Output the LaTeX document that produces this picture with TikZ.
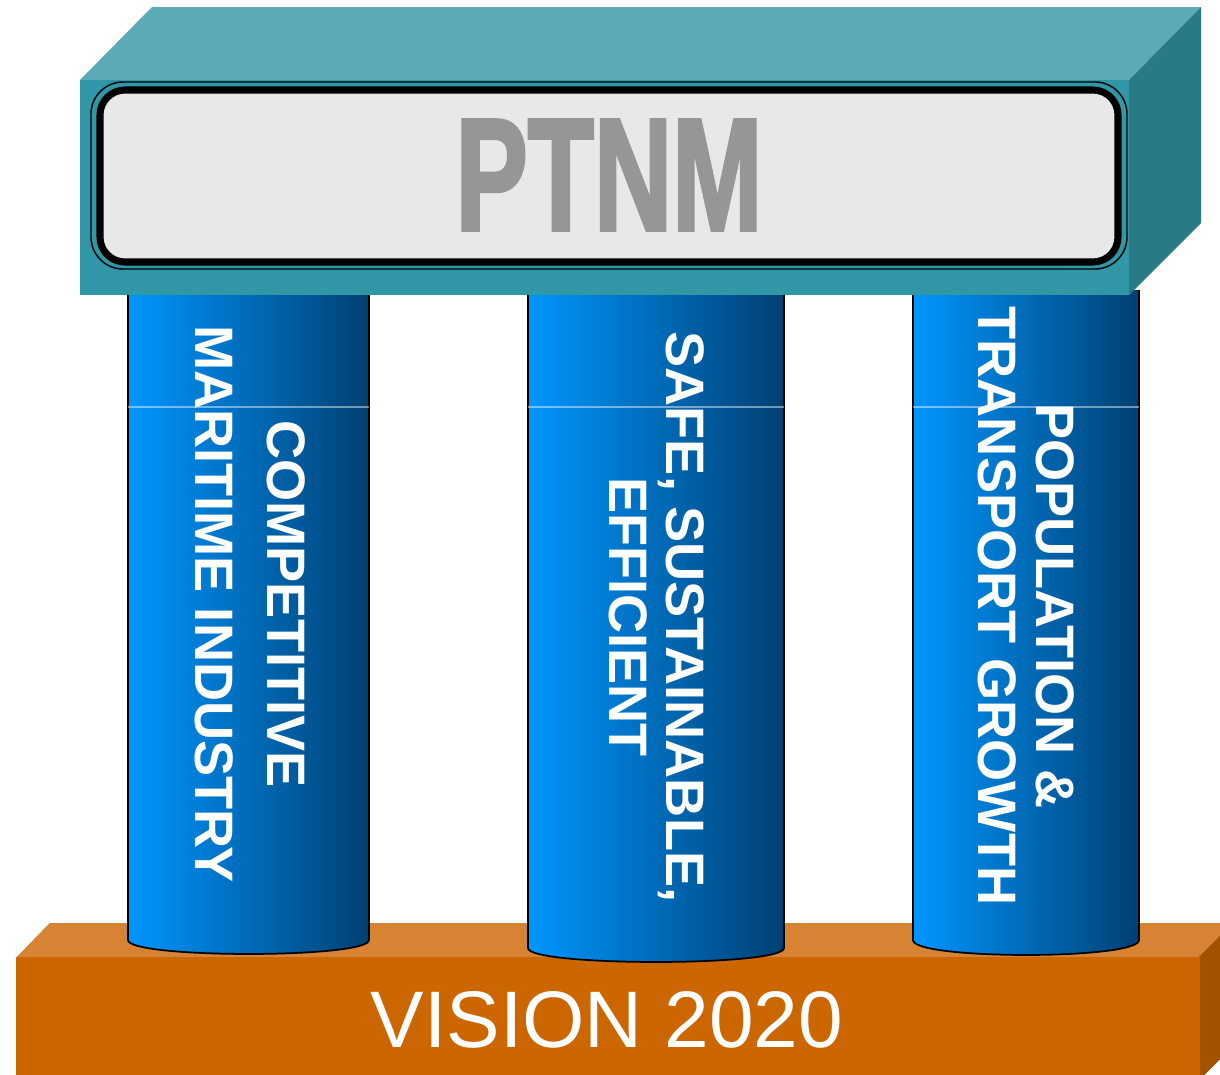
\documentclass[tikz,border=0pt]{standalone}
\usepackage{fontspec}
\setmainfont{Liberation Sans}
\newfontfamily\titlefont[FakeBold=2.5]{Liberation Sans Bold}
\definecolor{slabtop}{RGB}{91,170,181}
\definecolor{slabfront}{RGB}{49,150,166}
\definecolor{slabside}{RGB}{40,122,132}
\definecolor{basetop}{RGB}{214,132,51}
\definecolor{basefront}{RGB}{204,102,0}
\definecolor{baseside}{RGB}{163,82,0}
\definecolor{pillarlight}{RGB}{0,150,255}
\definecolor{pillarmid}{RGB}{0,116,206}
\definecolor{pillardark}{RGB}{0,64,114}
\definecolor{platefill}{RGB}{232,232,232}
\definecolor{titlegray}{RGB}{150,150,150}
\begin{document}
\begin{tikzpicture}[x = 0.01cm, y = -0.01cm,
        outline/.style = {draw = black, line width = 0.5pt, line join = round},
        pillar text/.style = {text = white, align = center, rotate = -90, font = \bfseries}]
    \clip (0,0) rectangle (1220,1075);
    % base
    \begin{scope}[every path/.append style = {outline}]
        \fill[basetop] (17,958) -- (50,924) -- (1233,924) -- (1199,958) -- cycle;
        \fill[baseside] (1199,958) -- (1233,924) -- (1233,1045) -- (1199,1079) -- cycle;
        \fill[basefront] (17,958) rectangle (1199,1079);
    \end{scope}
    \node[text = white, font = \fontsize{22.8}{26}\selectfont] (vision) at (607,1020) {VISION 2020};
    % pillars
    \foreach \xl/\xr/\yb/\h in {128/369/940/14, 528/784/948/14, 913/1139/940/15} {
        \draw[outline, left color = pillarlight, middle color = pillarmid, right color = pillardark]
            (\xl,290) -- (\xl,\yb) .. controls ({\xl},{\yb+1.33*\h}) and ({\xr},{\yb+1.33*\h}) .. (\xr,\yb) -- (\xr,290);
        \draw[white, opacity = 0.45, line width = 0.3pt] (\xl,407) -- (\xr,407);
    }
    \node[pillar text, font = \bfseries\fontsize{15.4}{20.5}\selectfont] (industry) at (250,604) {COMPETITIVE\\MARITIME INDUSTRY};
    \node[pillar text, font = \bfseries\fontsize{15.4}{16.2}\selectfont] (efficient) at (657,617) {SAFE, SUSTAINABLE,\\EFFICIENT};
    \node[pillar text, font = \bfseries\fontsize{15.4}{16.5}\selectfont] (growth) at (1026,606) {POPULATION \&\\TRANSPORT GROWTH};
    % slab
    \fill[slabtop] (80,80) -- (152,7) -- (1201,7) -- (1129,80) -- cycle;
    \fill[slabside] (1129,80) -- (1201,7) -- (1201,223) -- (1129,295) -- cycle;
    \fill[slabfront] (80,80) rectangle (1129,295);
    \draw[line width = 0.4pt, rounded corners = 0.32cm] (91,82) rectangle (1127,269);
    \draw[fill = platefill, line width = 2pt, rounded corners = 0.25cm] (100,90) rectangle (1118,262);
    \node[text = titlegray, font = \titlefont\fontsize{45.3}{50}\selectfont] (ptnm) at (609,175) {\scalebox{0.68}[1]{PTNM}};
\end{tikzpicture}
\end{document}
